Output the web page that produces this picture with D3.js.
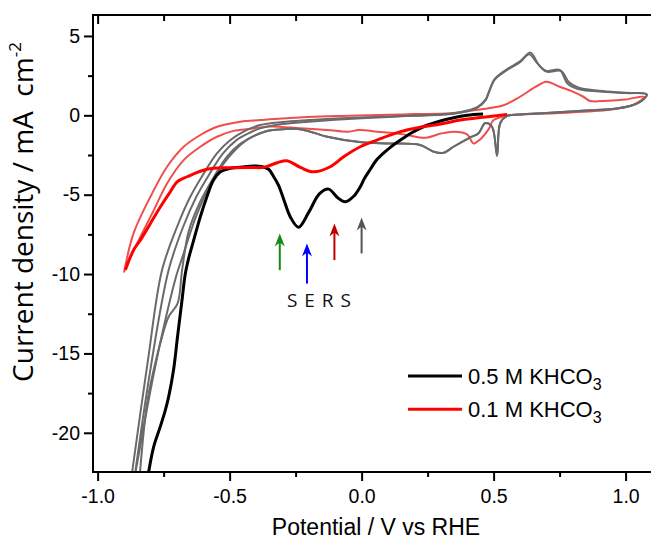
<!DOCTYPE html>
<html>
<head>
<meta charset="utf-8">
<script src="https://cdn.jsdelivr.net/npm/d3@7"></script>
<style>
  body { margin: 0; background: #fff; }
  svg { display: block; }
</style>
</head>
<body>
<div id="container"></div>
<script>
// data: potential (V vs RHE) and current density (mA cm-2)

// first cathodic scan, 0.5 M KHCO3 (black)
let blackV = [0.46, 0.40, 0.336, 0.28, 0.234, 0.19, 0.147, 0.11, 0.083, 0.055, 0.033, 0.01, -0.005, -0.03, -0.062, -0.09, -0.125, -0.16, -0.2, -0.239, -0.27, -0.295, -0.315, -0.333, -0.352, -0.38, -0.409, -0.45, -0.498, -0.535, -0.561, -0.586, -0.611, -0.636, -0.655, -0.668, -0.68, -0.697, -0.712, -0.731, -0.744, -0.763, -0.788, -0.81];
let blackJ = [0.08, 0.0, -0.2, -0.45, -0.72, -1.1, -1.56, -2.0, -2.38, -2.85, -3.4, -4.0, -4.5, -5.1, -5.45, -5.2, -4.65, -4.95, -6.1, -7.05, -6.4, -5.3, -4.4, -3.87, -3.4, -3.22, -3.2, -3.25, -3.34, -3.56, -4.08, -5.13, -6.39, -7.86, -9.0, -10.0, -11.6, -13.9, -16.0, -17.74, -18.6, -19.63, -20.9, -22.8];

// first cathodic scan, 0.1 M KHCO3 (red)
let redV = [0.551, 0.47, 0.374, 0.30, 0.222, 0.147, 0.058, -0.005, -0.068, -0.119, -0.182, -0.232, -0.283, -0.32, -0.371, -0.421, -0.5, -0.586, -0.661, -0.699, -0.725, -0.762, -0.8, -0.838, -0.864, -0.895];
let redJ = [0.06, -0.1, -0.3, -0.55, -0.75, -1.03, -1.56, -1.98, -2.61, -3.24, -3.56, -3.28, -2.86, -2.99, -3.28, -3.28, -3.3, -3.4, -3.87, -4.19, -4.82, -5.76, -6.81, -7.86, -8.49, -9.75];

// CV cycles, 0.5 M KHCO3 (grey), anodic then cathodic
let grey1V = [-0.872, -0.81, -0.756, -0.699, -0.649, -0.598, -0.548, -0.497, -0.447, -0.384, -0.3, -0.2, -0.1, 0.0, 0.1, 0.2, 0.3, 0.35, 0.4, 0.44, 0.47, 0.48, 0.5, 0.513, 0.55, 0.6, 0.64, 0.67, 0.7, 0.75, 0.78, 0.82, 0.9, 1.0, 1.08,
  1.06, 1.02, 0.95, 0.85, 0.7, 0.6, 0.551, 0.525, 0.513, 0.494, 0.468, 0.443, 0.412, 0.348, 0.311, 0.273, 0.222, 0.11, 0.0, -0.13, -0.2, -0.25, -0.3, -0.35, -0.384, -0.42, -0.46, -0.51, -0.56, -0.61, -0.655, -0.68, -0.697, -0.731, -0.756, -0.788, -0.813, -0.841];
let grey1J = [-22.8, -15.5, -9.75, -7.02, -5.13, -3.66, -2.4, -1.56, -1.03, -0.61, -0.42, -0.3, -0.2, -0.13, -0.07, -0.01, 0.05, 0.13, 0.3, 0.54, 1.0, 1.39, 2.2, 2.45, 2.9, 3.4, 3.95, 3.2, 2.8, 2.86, 2.0, 1.65, 1.5, 1.4, 1.32,
  0.9, 0.6, 0.4, 0.3, 0.15, 0.05, -0.04, -0.5, -2.57, -0.72, -0.5, -1.13, -1.39, -1.98, -2.36, -2.29, -1.87, -1.77, -1.7, -1.35, -1.0, -0.85, -0.88, -0.95, -1.13, -1.4, -1.8, -2.6, -3.9, -5.4, -7.3, -9.75, -11.85, -12.69, -13.96, -16.06, -18.16, -22.8];
let grey2V = [-0.86, -0.80, -0.731, -0.676, -0.626, -0.575, -0.525, -0.474, -0.424, -0.384, -0.3, -0.2, -0.1, 0.0, 0.1, 0.2, 0.3, 0.35, 0.4, 0.44, 0.47, 0.48, 0.5, 0.513, 0.55, 0.6, 0.635, 0.665, 0.7, 0.755, 0.785, 0.82, 0.9, 1.0, 1.08,
  1.06, 1.02, 0.95, 0.85, 0.7, 0.6, 0.551, 0.525, 0.513, 0.494, 0.468, 0.443, 0.412, 0.348, 0.311, 0.273, 0.222, 0.11, 0.0, -0.13, -0.2, -0.25, -0.3, -0.35, -0.384, -0.43, -0.48, -0.53, -0.58, -0.63, -0.68, -0.70, -0.745, -0.79, -0.835, -0.862];
let grey2J = [-22.8, -16.0, -9.75, -7.02, -5.13, -3.66, -2.4, -1.56, -1.1, -0.82, -0.55, -0.4, -0.28, -0.18, -0.1, -0.03, 0.03, 0.1, 0.25, 0.5, 0.95, 1.35, 2.15, 2.4, 2.85, 3.35, 3.85, 3.3, 2.75, 2.8, 2.1, 1.75, 1.55, 1.42, 1.32,
  0.9, 0.6, 0.4, 0.3, 0.15, 0.05, -0.04, -0.5, -2.45, -0.72, -0.5, -1.13, -1.39, -1.98, -2.36, -2.29, -1.87, -1.77, -1.7, -1.35, -1.0, -0.85, -0.88, -0.95, -1.13, -1.5, -2.2, -3.2, -4.6, -6.5, -9.0, -10.0, -13.0, -16.5, -20.5, -23.0];

// CV cycle, 0.1 M KHCO3 (light red)
let pinkV = [-0.9, -0.864, -0.8, -0.737, -0.674, -0.611, -0.548, -0.459, -0.384, -0.3, -0.1, 0.1, 0.2, 0.336, 0.42, 0.48, 0.54, 0.6, 0.66, 0.70, 0.75, 0.8, 0.84, 0.866, 0.93, 1.0, 1.07,
  1.05, 1.02, 0.94, 0.75, 0.6, 0.55, 0.5, 0.48, 0.45, 0.424, 0.40, 0.35, 0.3, 0.25, 0.22, 0.16, 0.06, -0.01, -0.05, -0.13, -0.23, -0.35, -0.42, -0.485, -0.548, -0.611, -0.674, -0.737, -0.787, -0.838, -0.895];
let pinkJ = [-9.9, -7.44, -5.13, -3.24, -1.98, -1.24, -0.72, -0.4, -0.3, -0.2, -0.05, 0.03, 0.08, 0.13, 0.3, 0.44, 0.65, 1.17, 1.8, 2.12, 1.8, 1.49, 1.17, 0.9, 0.92, 1.0, 1.17,
  0.85, 0.6, 0.35, 0.15, 0.05, -0.02, -0.3, -0.9, -1.5, -1.77, -1.2, -1.03, -1.15, -1.4, -1.4, -1.2, -1.03, -0.93, -1.03, -0.93, -0.82, -0.7, -0.85, -0.98, -1.35, -1.98, -2.82, -4.29, -5.97, -7.65, -9.6];

// SERS arrows
let arrowV = [-0.31, -0.207, -0.103, 0.0];
let arrowTip = [-7.44, -8.07, -6.81, -6.43];
let arrowBase = [-9.75, -10.6, -9.12, -8.7];
let arrowColors = ["#138a13", "#0000ff", "#c00000", "#555555"];

// ticks
let xMajor = [-1.0, -0.5, 0.0, 0.5, 1.0];
let xMinor = [-0.75, -0.25, 0.25, 0.75];
let yMajor = [5, 0, -5, -10, -15, -20];
let yMinor = [2.5, -2.5, -7.5, -12.5, -17.5];

let legendNames = ["0.5 M KHCO", "0.1 M KHCO"];
let legendColors = ["#000000", "#ff0000"];

// layout
let w = 651;
let h = 540;
let padL = 93, padT = 15, padR = 652, padB = 472;

let viz = d3.select("#container")
  .append("svg")
    .attr("width", w)
    .attr("height", h);

let xScale = d3.scaleLinear().domain([-1.0175, 1.1]).range([padL, padR]);
let yScale = d3.scaleLinear().domain([-22.47, 6.32]).range([padB, padT]);

viz.append("clipPath").attr("id", "plotclip")
  .append("rect")
    .attr("x", padL).attr("y", padT)
    .attr("width", padR - padL).attr("height", padB - padT);

let line = d3.line()
  .x(d => xScale(d[0]))
  .y(d => yScale(d[1]))
  .curve(d3.curveCatmullRom.alpha(0.5));

function pairs(vs, js) {
  return vs.map((v, i) => [v, js[i]]);
}

let curves = [
  { pts: pairs(pinkV, pinkJ), color: "#f24d4d", width: 2 },
  { pts: pairs(grey2V, grey2J), color: "#6a6a6a", width: 2 },
  { pts: pairs(grey1V, grey1J), color: "#6a6a6a", width: 2 },
  { pts: pairs(blackV, blackJ), color: "#000000", width: 3 },
  { pts: pairs(redV, redJ), color: "#ff0000", width: 3 }
];

let graphgroup = viz.append("g").attr("clip-path", "url(#plotclip)");
graphgroup.selectAll("path.curve").data(curves).enter()
  .append("path")
    .attr("class", "curve")
    .attr("d", d => line(d.pts))
    .attr("fill", "none")
    .attr("stroke", d => d.color)
    .attr("stroke-width", d => d.width)
    .attr("stroke-linejoin", "round");

// arrows
let arrows = arrowV.map((v, i) => ({ v: v, tip: arrowTip[i], base: arrowBase[i], color: arrowColors[i] }));
let arrowGroups = viz.selectAll(".arrow").data(arrows).enter()
  .append("g").attr("class", "arrow");
arrowGroups.append("line")
  .attr("x1", d => xScale(d.v)).attr("x2", d => xScale(d.v))
  .attr("y1", d => yScale(d.base)).attr("y2", d => yScale(d.tip) + 8)
  .attr("stroke", d => d.color)
  .attr("stroke-width", 2);
arrowGroups.append("path")
  .attr("d", function(d) {
    let x = xScale(d.v), y = yScale(d.tip);
    return "M" + x + "," + y + "L" + (x - 5) + "," + (y + 13) + "L" + x + "," + (y + 9) + "L" + (x + 5) + "," + (y + 13) + "Z";
  })
  .attr("fill", d => d.color);

viz.append("text")
  .attr("x", 287).attr("y", 307)
  .attr("font-family", "'Open Sans', sans-serif")
  .attr("font-size", 19)
  .attr("letter-spacing", 1)
  .attr("fill", "#111")
  .text("S E R S");

// axes
let tickFont = "'Liberation Sans', Arial, sans-serif";
let fmt = d => d3.format(".1f")(d).replace("−", "-");

let xAxisGroup = viz.append("g")
  .attr("transform", "translate(0," + padB + ")")
  .call(d3.axisBottom(xScale).tickValues(xMajor).tickSize(9).tickPadding(8).tickFormat(fmt));
let xMinorGroup = viz.append("g")
  .attr("transform", "translate(0," + padB + ")")
  .call(d3.axisBottom(xScale).tickValues(xMinor).tickSize(5).tickFormat(""));
let yAxisGroup = viz.append("g")
  .attr("transform", "translate(" + padL + ",0)")
  .call(d3.axisLeft(yScale).tickValues(yMajor).tickSize(9).tickPadding(4).tickFormat(d => String(d).replace("−", "-")));
let yMinorGroup = viz.append("g")
  .attr("transform", "translate(" + padL + ",0)")
  .call(d3.axisLeft(yScale).tickValues(yMinor).tickSize(5).tickFormat(""));
let topGroup = viz.append("g")
  .attr("transform", "translate(0," + padT + ")")
  .call(d3.axisTop(xScale).tickValues(xMajor).tickSize(-9).tickFormat(""));
let topMinorGroup = viz.append("g")
  .attr("transform", "translate(0," + padT + ")")
  .call(d3.axisTop(xScale).tickValues(xMinor).tickSize(-6).tickFormat(""));

viz.selectAll(".domain").remove();
viz.selectAll(".tick line").attr("stroke", "#000").attr("stroke-width", 2);
viz.selectAll(".tick text")
  .attr("font-family", tickFont)
  .attr("font-size", 19.5)
  .attr("fill", "#000");

// frame
viz.append("rect")
  .attr("x", padL).attr("y", padT)
  .attr("width", padR - padL).attr("height", padB - padT)
  .attr("fill", "none")
  .attr("stroke", "#000")
  .attr("stroke-width", 2);

// axis titles
viz.append("text")
  .attr("x", 376).attr("y", 535)
  .attr("text-anchor", "middle")
  .attr("font-family", tickFont)
  .attr("font-size", 23)
  .text("Potential / V vs RHE");

let ylab = viz.append("text")
  .attr("transform", "translate(33,212) rotate(-90)")
  .attr("text-anchor", "middle")
  .attr("font-family", "'Open Sans', sans-serif")
  .attr("font-size", 28);
ylab.append("tspan").text("Current density / mA\u00a0 cm");
ylab.append("tspan").attr("font-size", 17).attr("dy", -12).text("-2");

// legend
let legend = viz.selectAll(".legend").data(legendNames).enter()
  .append("g").attr("class", "legend")
  .attr("transform", (d, i) => "translate(0," + (376 + i * 33.3) + ")");
legend.append("line")
  .attr("x1", 408).attr("x2", 462)
  .attr("stroke", (d, i) => legendColors[i])
  .attr("stroke-width", 3);
let ltext = legend.append("text")
  .attr("x", 468).attr("y", 7.5)
  .attr("font-family", tickFont)
  .attr("font-size", 22);
ltext.append("tspan").text(d => d);
ltext.append("tspan").attr("font-size", 16).attr("dy", 6.5).text("3");
</script>
</body>
</html>
